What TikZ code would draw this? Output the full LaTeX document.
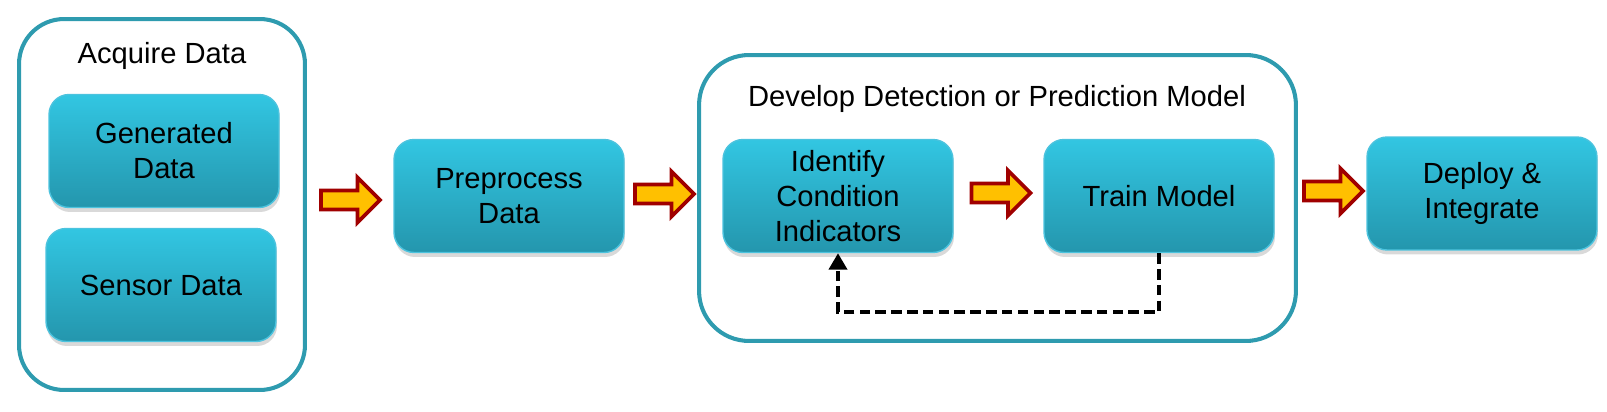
\documentclass[tikz,border=0pt]{standalone}
\usepackage{fontspec}
\setmainfont{Liberation Sans}
\usetikzlibrary{shadows, arrows.meta}
\definecolor{cyantop}{HTML}{32C6E2}
\definecolor{cyanbot}{HTML}{2496AD}
\definecolor{cyanedge}{HTML}{4CC3DE}
\definecolor{tealline}{HTML}{2E9BAF}
\definecolor{arrowred}{HTML}{A00000}
\definecolor{arrowgold}{HTML}{FFC000}
\begin{document}
\begin{tikzpicture}[x=0.02cm, y=-0.02cm, font=\fontsize{16.6}{20}\selectfont,
    stage/.style={draw=cyanedge, line width=0.8pt, rounded corners=0.4cm, top color=cyantop, bottom color=cyanbot,
      drop shadow={shadow xshift=0.02cm, shadow yshift=-0.09cm, opacity=0.3}, align=center, inner sep=0pt,
      minimum width=4.6cm, minimum height=2.26cm},
    group/.style={draw=tealline, line width=2.3pt, rounded corners=0.9cm},
    fatarrow/.pic={\draw[arrowred, fill=arrowgold, line width=2.2pt]
      (-30, -9.5) -- (6.5, -9.5) -- (6.5, -22.5) -- (29, 0) -- (6.5, 22.5) -- (6.5, 9.5) -- (-30, 9.5) -- cycle;},
    feedback/.style={draw=black, line width=2.3pt, dash pattern=on 6pt off 3pt, -{Triangle[length=0.33cm, width=0.36cm]}}]
        \useasboundingbox (0, 0) rectangle (1607, 412);

        \node[group, minimum width=5.72cm, minimum height=7.42cm] (acq) at (162, 204.5) {};
        \node (acqtitle) at (162, 56) {Acquire Data};
        \node[stage] (gen) at (164, 151) {Generated\\Data};
        \node[stage] (sen) at (161, 285) {Sensor Data};

        \node[stage] (pre) at (509, 196) {Preprocess\\Data};

        \node[group, minimum width=11.94cm, minimum height=5.72cm, rounded corners=1cm] (dev) at (997.5, 198) {};
        \node (devtitle) at (997, 99) {Develop Detection or Prediction Model};
        \node[stage] (ident) at (838, 196) {Identify\\Condition\\Indicators};
        \node[stage] (train) at (1159, 196) {Train Model};

        \node[stage] (deploy) at (1482, 193.5) {Deploy \&\\Integrate};

        \pic (a1) at (351, 200) {fatarrow};
        \pic (a2) at (665, 194) {fatarrow};
        \pic (a3) at (1001.5, 193) {fatarrow};
        \pic (a4) at (1334, 191) {fatarrow};

        \draw[feedback] (train.south) -- ++(0, 59) -| (ident.south);
      \end{tikzpicture}
\end{document}
